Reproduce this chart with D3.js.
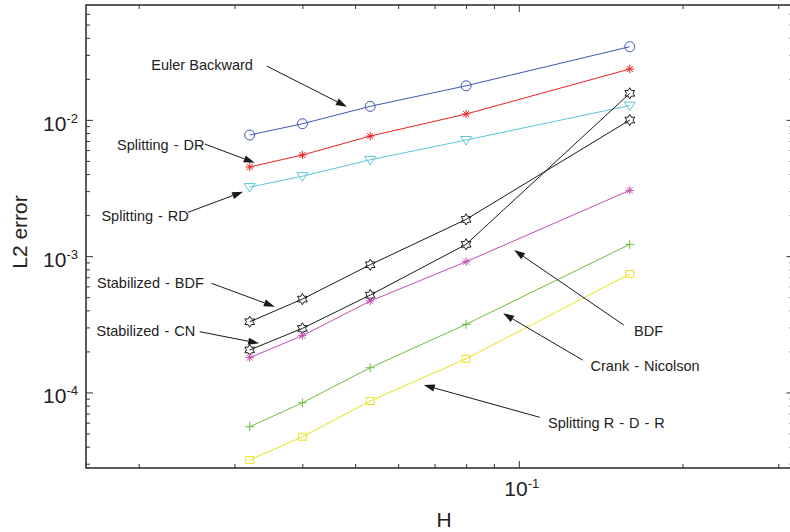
<!DOCTYPE html>
<html>
<head>
<meta charset="utf-8">
<script src="https://cdn.jsdelivr.net/npm/d3@7"></script>
<style>
  body { margin: 0; background: #fff; }
  svg { display: block; }
  text { font-family: "Liberation Sans", Arial, Helvetica, sans-serif; fill: #222; }
</style>
</head>
<body>
<svg id="chart" width="790" height="532"></svg>
<script>
// Mesh sizes H (shared by every method)
const meshSizes = [0.032, 0.04, 0.0533, 0.08, 0.16];

// L2 errors per method
const eulerBackward   = [0.00774, 0.00936, 0.01256, 0.01778, 0.0344];
const splittingDR     = [0.00451, 0.00552, 0.00760, 0.01103, 0.0236];
const splittingRD     = [0.00321, 0.00386, 0.00509, 0.00711, 0.01273];
const stabilizedBDF   = [0.000330, 0.000484, 0.000865, 0.00186, 0.00997];
const stabilizedCN    = [0.000205, 0.000295, 0.000518, 0.00122, 0.01565];
const bdf             = [0.000180, 0.000261, 0.000468, 0.000910, 0.00304];
const crankNicolson   = [0.0000560, 0.0000840, 0.0001518, 0.000316, 0.00122];
const splittingRDR    = [0.0000319, 0.0000473, 0.0000865, 0.0001767, 0.000739];

// Axis ticks
const xMajorTicks = [0.1];
const yMajorTicks = [1e-4, 1e-3, 1e-2];
const xTickLabels = [["10", "-1"]];
const yTickLabels = [["10", "-4"], ["10", "-3"], ["10", "-2"]];

// Callouts: label, label anchor, arrow tail and arrow tip, all in (H, error)
const calloutLabels = ["Euler Backward", "Splitting-DR", "Splitting-RD", "Stabilized-BDF",
                       "Stabilized-CN", "BDF", "Crank-Nicolson", "Splitting R-D-R"];
const calloutText = [[0.0211, 0.0234], [0.01825, 0.00600], [0.01708, 0.001819], [0.01677, 0.000586],
                     [0.01673, 0.0002594], [0.1629, 0.0002594], [0.1355, 0.0001435], [0.1132, 0.00005452]];
const calloutTail = [[0.0344, 0.0248], [0.02646, 0.006645], [0.02465, 0.002097], [0.02722, 0.000632],
                     [0.02591, 0.0002789], [0.1560, 0.0003123], [0.1310, 0.0001729], [0.1093, 0.00006568]];
const calloutTip  = [[0.0483, 0.01248], [0.03269, 0.004846], [0.03112, 0.002969], [0.03559, 0.0004253],
                     [0.03330, 0.0002292], [0.09803, 0.001108], [0.09357, 0.0003804], [0.06688, 0.0001133]];

// Series table: values plus their drawing style
const series = [
  { values: eulerBackward, color: "#3b58b3", marker: "circle" },
  { values: splittingDR,   color: "#ee2222", marker: "asterisk" },
  { values: splittingRD,   color: "#5cc6d8", marker: "triangleDown" },
  { values: stabilizedBDF, color: "#1a1a1a", marker: "hexagram" },
  { values: stabilizedCN,  color: "#1a1a1a", marker: "hexagram" },
  { values: bdf,           color: "#c24fb3", marker: "asterisk" },
  { values: crankNicolson, color: "#6cbf3c", marker: "plus" },
  { values: splittingRDR,  color: "#eee020", marker: "square" }
];

const svg = d3.select("#chart");
const frame = { left: 86, right: 793.5, top: 5, bottom: 468 };

const x = d3.scaleLog().domain([0.016, 0.32]).range([frame.left, frame.right]);
const y = d3.scaleLog().domain([2.79e-5, 0.0696]).range([frame.bottom, frame.top]);

// Major and minor log ticks inside a domain
function logTicks(scale) {
  const [a, b] = scale.domain();
  const out = [];
  for (let k = Math.floor(Math.log10(a)); k <= Math.ceil(Math.log10(b)); k++) {
    for (let m = 1; m <= 9; m++) {
      const v = m * Math.pow(10, k);
      if (v >= a * 0.999 && v <= b * 1.001) out.push({ v, major: m === 1 });
    }
  }
  return out;
}

const axisColor = "#333";
const xt = logTicks(x), yt = logTicks(y);

// Inward ticks on all four sides, drawn with d3 axes
function tickAxis(gen, vals, size, transform) {
  const g = svg.append("g").attr("transform", transform)
    .call(gen.tickValues(vals).tickSize(size).tickFormat(() => ""));
  g.select(".domain").remove();
  g.selectAll(".tick line").attr("stroke", axisColor).attr("stroke-width", 1);
  return g;
}
const xMinor = xt.filter(t => !t.major).map(t => t.v), xMaj = xt.filter(t => t.major).map(t => t.v);
const yMinor = yt.filter(t => !t.major).map(t => t.v), yMaj = yt.filter(t => t.major).map(t => t.v);

tickAxis(d3.axisBottom(x), xMinor, -4, `translate(0,${frame.bottom})`);
tickAxis(d3.axisBottom(x), xMaj, -7, `translate(0,${frame.bottom})`);
tickAxis(d3.axisTop(x), xMinor, -4, `translate(0,${frame.top})`);
tickAxis(d3.axisTop(x), xMaj, -7, `translate(0,${frame.top})`);
tickAxis(d3.axisLeft(y), yMinor, -4, `translate(${frame.left},0)`);
tickAxis(d3.axisLeft(y), yMaj, -7, `translate(${frame.left},0)`);
tickAxis(d3.axisRight(y), yMinor, -4, `translate(${frame.right},0)`);
tickAxis(d3.axisRight(y), yMaj, -7, `translate(${frame.right},0)`);

// Box
svg.append("rect")
  .attr("x", frame.left).attr("y", frame.top)
  .attr("width", frame.right - frame.left).attr("height", frame.bottom - frame.top)
  .attr("fill", "none").attr("stroke", axisColor).attr("stroke-width", 1.6);

// Power-of-ten tick labels
function powerLabel(sel, parts) {
  sel.append("tspan").attr("font-size", 21).text(parts[0]);
  sel.append("tspan").attr("font-size", 13).attr("dy", -8).text(parts[1]);
}
yMajorTicks.forEach((v, i) => {
  const t = svg.append("text").attr("x", frame.left - 8).attr("y", y(v) + 11)
    .attr("text-anchor", "end");
  powerLabel(t, yTickLabels[i]);
});
xMajorTicks.forEach((v, i) => {
  const t = svg.append("text").attr("x", x(v) + 3).attr("y", frame.bottom + 28)
    .attr("text-anchor", "middle");
  powerLabel(t, xTickLabels[i]);
});

// Axis titles
svg.append("text").attr("x", 444).attr("y", 526.5).attr("text-anchor", "middle")
  .attr("font-size", 21).text("H");
svg.append("text").attr("transform", "translate(26.5,232) rotate(-90)")
  .attr("text-anchor", "middle").attr("font-size", 21).text("L2 error");

// Marker shapes
function markerPath(kind) {
  switch (kind) {
    case "asterisk": {
      const s = 4.2, d = s * 0.72;
      return `M${-s},0L${s},0M0,${-s}L0,${s}M${-d},${-d}L${d},${d}M${-d},${d}L${d},${-d}`;
    }
    case "plus": {
      const s = 4.5;
      return `M${-s},0L${s},0M0,${-s}L0,${s}`;
    }
    case "triangleDown":
      return "M-5.5,-3.5L5.5,-3.5L0,5Z";
    case "square":
      return "M-4,-3.5L4,-3.5L4,3.5L-4,3.5Z";
    case "hexagram": {
      const R = 5.6, r = R / Math.sqrt(3), pts = [];
      for (let i = 0; i < 12; i++) {
        const a = -Math.PI / 2 + i * Math.PI / 6;
        const rad = i % 2 === 0 ? R : r;
        pts.push([rad * Math.cos(a), rad * Math.sin(a)]);
      }
      return "M" + pts.map(p => p.map(n => n.toFixed(2)).join(",")).join("L") + "Z";
    }
    default:
      return null;
  }
}

const line = d3.line().x(d => x(d[0])).y(d => y(d[1]));

series.forEach(s => {
  const pts = meshSizes.map((h, i) => [h, s.values[i]]);
  const g = svg.append("g");
  g.append("path").attr("d", line(pts)).attr("fill", "none")
    .attr("stroke", s.color).attr("stroke-width", 1);
  const m = g.selectAll("g.m").data(pts).join("g")
    .attr("transform", d => `translate(${x(d[0])},${y(d[1])})`);
  if (s.marker === "circle") {
    m.append("circle").attr("r", 5).attr("fill", "none")
      .attr("stroke", s.color).attr("stroke-width", 1);
  } else {
    m.append("path").attr("d", markerPath(s.marker)).attr("fill", "none")
      .attr("stroke", s.color).attr("stroke-width", 1);
  }
});

// Callouts with arrows
function spacedLabel(sel, label) {
  const parts = label.split("-");
  parts.forEach((p, i) => {
    if (i > 0) sel.append("tspan").attr("dx", 5).text("-");
    sel.append("tspan").attr("dx", i > 0 ? 5 : 0).text(p);
  });
}
calloutLabels.forEach((label, i) => {
  const [tx, ty] = calloutText[i];
  const t = svg.append("text").attr("x", x(tx)).attr("y", y(ty)).attr("font-size", 14.5);
  spacedLabel(t, label);

  const x1 = x(calloutTail[i][0]), y1 = y(calloutTail[i][1]);
  const x2 = x(calloutTip[i][0]), y2 = y(calloutTip[i][1]);
  const ang = Math.atan2(y2 - y1, x2 - x1);
  const L = 11, W = 3.6;
  const bx = x2 - L * Math.cos(ang), by = y2 - L * Math.sin(ang);
  svg.append("line").attr("x1", x1).attr("y1", y1).attr("x2", bx).attr("y2", by)
    .attr("stroke", "#1a1a1a").attr("stroke-width", 1);
  const px = -Math.sin(ang) * W, py = Math.cos(ang) * W;
  svg.append("path")
    .attr("d", `M${x2},${y2}L${bx + px},${by + py}L${bx - px},${by - py}Z`)
    .attr("fill", "#1a1a1a");
});
</script>
</body>
</html>
